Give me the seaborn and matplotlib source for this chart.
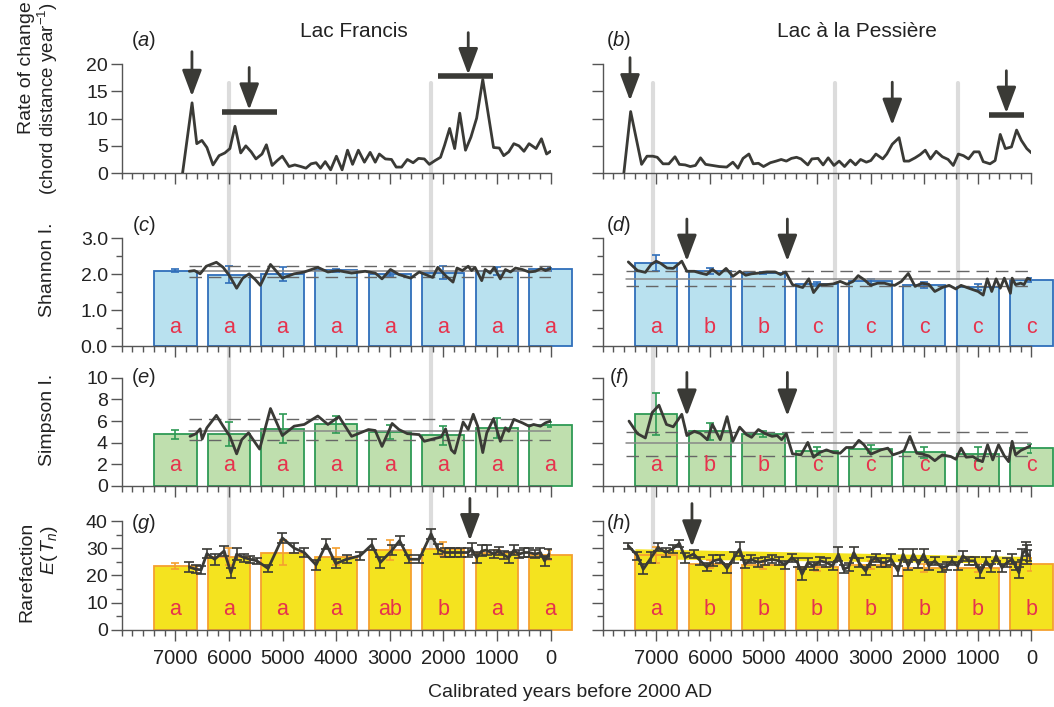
import numpy as np
import pandas as pd
import seaborn as sns
import matplotlib.pyplot as plt
from matplotlib.ticker import MultipleLocator, FixedLocator, FormatStrFormatter
from matplotlib.lines import Line2D

sns.set_style('ticks')
plt.rcParams['font.family'] = ['Liberation Sans', 'DejaVu Sans']
plt.rcParams['mathtext.fontset'] = 'custom'
plt.rcParams['mathtext.rm'] = 'Liberation Sans'
plt.rcParams['mathtext.it'] = 'Liberation Sans:italic'

# ---- data (years = calibrated years BP 2000) ----
bar_years = [7000, 6000, 5000, 4000, 3000, 2000, 1000, 0]
xtick_years = [7000, 6000, 5000, 4000, 3000, 2000, 1000, 0]

# rate of change
fr_roc_yr = [6865, 6688, 6600, 6505, 6411, 6297, 6184, 6076, 5982, 5887,
             5780, 5685, 5585, 5496, 5383, 5301, 5194, 5099, 5004, 4878,
             4771, 4658, 4563, 4468, 4374, 4292, 4203, 4102, 3995, 3888,
             3787, 3693, 3585, 3472, 3365, 3270, 3194, 3081, 2967, 2879,
             2778, 2671, 2563, 2463, 2355, 2261, 2154, 2052, 1977, 1882,
             1788, 1693, 1586, 1485, 1378, 1264, 1063, 955, 873, 779,
             684, 589, 495, 400, 270, 169, 73, 0]
fr_roc = [0, 12.9, 5.4, 6.0, 4.7, 1.5, 3.2, 3.7, 4.5, 8.6,
          3.7, 5.0, 3.9, 2.6, 3.5, 5.2, 1.4, 2.3, 3.1, 1.2,
          1.5, 1.2, 0.9, 1.7, 1.9, 0.9, 2.1, 0.6, 3.1, 0.6,
          4.2, 1.6, 4.2, 2.0, 3.8, 2.0, 3.5, 2.6, 2.5, 1.1,
          1.1, 2.5, 1.9, 2.7, 2.6, 1.6, 2.3, 2.9, 5.1, 8.2,
          4.5, 11.0, 4.2, 6.6, 10.1, 17.2, 4.7, 4.6, 3.2, 3.9,
          5.4, 5.0, 4.0, 5.4, 4.5, 6.3, 3.5, 4.0]
pe_roc_yr = [7605, 7478, 7274, 7173, 7065, 6982, 6874, 6766, 6651, 6569,
             6461, 6366, 6270, 6175, 6080, 5952, 5825, 5686, 5571, 5476,
             5381, 5272, 5190, 5094, 4999, 4872, 4764, 4669, 4573, 4478,
             4383, 4300, 4173, 4097, 3982, 3887, 3792, 3684, 3588, 3487,
             3379, 3283, 3188, 3080, 2997, 2902, 2775, 2699, 2597, 2470,
             2375, 2286, 2171, 2076, 1981, 1885, 1777, 1663, 1555, 1459,
             1364, 1269, 1174, 1072, 977, 900, 773, 678, 582, 487,
             373, 277, 188, 87, 0]
pe_roc = [0, 11.3, 1.6, 3.1, 3.1, 2.9, 1.7, 1.7, 3.0, 1.6,
          1.5, 1.2, 1.4, 2.8, 1.6, 1.4, 1.2, 1.1, 2.0, 0.9,
          2.7, 3.5, 1.7, 1.8, 1.2, 1.9, 2.2, 2.5, 2.2, 2.7,
          2.9, 2.6, 1.5, 2.6, 2.7, 1.5, 2.8, 1.4, 2.2, 1.2,
          2.4, 1.5, 2.5, 2.0, 2.3, 3.5, 2.6, 3.5, 5.3, 6.5,
          2.2, 2.2, 2.8, 3.4, 4.2, 2.6, 4.0, 3.0, 2.5, 1.4,
          3.5, 3.2, 2.6, 3.9, 3.9, 2.1, 1.7, 2.3, 7.1, 4.5,
          4.8, 7.9, 6.0, 4.5, 3.7]

# Shannon index
fr_sh_yr = [6739, 6644, 6537, 6423, 6234, 6108, 5982, 5856, 5742, 5622,
            5509, 5414, 5225, 5004, 4783, 4594, 4342, 4153, 3964, 3711,
            3459, 3270, 3144, 2986, 2828, 2608, 2450, 2198, 2103, 1945,
            1819, 1744, 1643, 1536, 1472, 1409, 1283, 1220, 1126, 1050,
            936, 842, 747, 653, 526, 400, 283, 175, 92, 0]
fr_sh = [2.08, 2.10, 2.01, 2.22, 2.33, 2.19, 1.94, 1.61, 1.89, 2.01,
         1.85, 1.69, 2.27, 1.89, 2.01, 2.06, 2.19, 2.06, 2.10, 2.03,
         2.08, 2.03, 1.87, 2.13, 1.99, 1.89, 2.06, 1.91, 2.19, 1.94,
         1.78, 2.17, 2.10, 2.22, 2.10, 2.19, 1.82, 2.13, 2.03, 2.19,
         1.87, 2.13, 2.06, 2.17, 2.13, 2.06, 2.08, 2.16, 2.10, 2.16]
pe_sh_yr = [7522, 7351, 7204, 7096, 7001, 6918, 6798, 6683, 6524, 6429,
            6289, 6175, 6060, 5952, 5825, 5698, 5571, 5444, 5330, 5222,
            5095, 4936, 4777, 4681, 4586, 4459, 4268, 4154, 4065, 3951,
            3824, 3696, 3569, 3442, 3328, 3232, 3125, 2997, 2870, 2743,
            2648, 2553, 2425, 2298, 2171, 2044, 1917, 1803, 1663, 1536,
            1409, 1313, 1205, 1091, 995, 900, 824, 741, 659, 582,
            506, 392, 360, 297, 201, 138, 74, 11]
pe_sh = [2.34, 2.10, 2.05, 2.27, 2.36, 2.30, 2.17, 2.16, 2.36, 2.08,
         2.08, 2.03, 1.99, 2.13, 1.99, 2.16, 1.94, 2.08, 1.97, 2.01,
         2.03, 2.06, 2.06, 1.99, 2.06, 1.71, 1.63, 1.87, 1.49, 1.71,
         1.71, 1.73, 1.80, 1.72, 1.80, 1.96, 1.85, 1.69, 1.75, 1.75,
         1.71, 1.69, 1.80, 2.02, 1.66, 1.75, 1.72, 1.52, 1.63, 1.69,
         1.59, 1.69, 1.63, 1.57, 1.52, 1.42, 1.87, 1.52, 1.87, 1.61,
         1.89, 1.47, 1.89, 1.71, 1.75, 1.71, 1.89, 1.85]
fr_sh_bar = [2.10, 1.99, 2.01, 2.11, 2.01, 2.04, 2.08, 2.13]
fr_sh_err = [0.03, 0.24, 0.19, 0.04, 0.05, 0.18, 0.11, 0.03]
pe_sh_bar = [2.30, 2.08, 2.03, 1.72, 1.80, 1.71, 1.65, 1.84]
pe_sh_err = [0.22, 0.08, 0.03, 0.06, 0.06, 0.08, 0.08, 0.05]

# Simpson index
fr_si_yr = [6726, 6613, 6537, 6499, 6411, 6234, 6108, 5982, 5856, 5761,
            5635, 5528, 5427, 5225, 5004, 4783, 4594, 4342, 4153, 3945,
            3711, 3585, 3396, 3270, 3144, 2955, 2828, 2671, 2450, 2355,
            2198, 2040, 1958, 1851, 1788, 1630, 1536, 1441, 1359, 1264,
            1189, 1063, 936, 842, 779, 684, 526, 400, 315, 188, 92, 0]
fr_si = [4.59, 4.84, 5.28, 4.34, 5.38, 6.53, 5.53, 4.59, 2.97, 4.28,
         4.91, 4.13, 3.41, 7.16, 4.66, 5.53, 5.69, 6.47, 5.69, 6.41,
         4.59, 4.84, 5.22, 5.13, 3.66, 5.78, 5.22, 4.84, 4.75, 4.13,
         4.34, 4.53, 5.28, 3.34, 3.03, 5.91, 5.22, 6.63, 5.53, 3.09,
         4.91, 6.22, 4.13, 5.38, 5.06, 6.16, 5.84, 5.53, 5.69, 5.53, 5.84, 6.0]
pe_si_yr = [7509, 7351, 7204, 7077, 6950, 6810, 6683, 6524, 6429, 6289,
            6175, 6048, 5952, 5806, 5679, 5571, 5444, 5317, 5222, 5095,
            4967, 4840, 4745, 4662, 4573, 4459, 4300, 4173, 4065, 3951,
            3824, 3696, 3569, 3455, 3328, 3220, 3125, 2997, 2807, 2680,
            2584, 2457, 2375, 2267, 2140, 2044, 1917, 1803, 1663, 1504,
            1409, 1313, 1218, 1091, 995, 913, 818, 722, 614, 506,
            424, 360, 297, 201, 106, 42, 11]
pe_si = [6.0, 4.84, 4.44, 6.78, 7.47, 5.69, 5.47, 6.63, 4.66, 5.06,
         4.84, 4.28, 5.69, 4.28, 6.41, 4.13, 5.44, 4.75, 4.5, 5.22,
         4.84, 4.59, 4.66, 4.28, 4.84, 2.97, 2.88, 4.03, 2.66, 3.09,
         3.34, 3.09, 3.03, 3.56, 3.56, 4.22, 3.81, 2.94, 3.34, 3.5,
         2.88, 3.09, 3.28, 4.59, 3.03, 2.97, 2.78, 2.34, 2.88, 2.72,
         2.47, 3.5, 2.66, 2.72, 2.41, 2.25, 3.81, 2.41, 3.81, 2.78,
         2.25, 4.13, 2.88, 3.28, 3.5, 3.66, 3.72]
fr_si_bar = [4.78, 4.78, 5.28, 5.69, 4.97, 4.69, 5.38, 5.66]
fr_si_err = [0.44, 1.1, 1.35, 0.8, 0.65, 0.9, 0.95, 0.25]
pe_si_bar = [6.63, 5.06, 4.81, 3.25, 3.41, 3.13, 2.94, 3.50]
pe_si_err = [1.95, 0.8, 0.27, 0.35, 0.36, 0.5, 0.67, 0.42]

# rarefaction E(Tn)
fr_ra_yr = [6739, 6613, 6518, 6411, 6266, 6089, 5963, 5856, 5717, 5603,
            5477, 5269, 5004, 4783, 4594, 4374, 4184, 4008, 3806, 3553,
            3333, 3175, 2955, 2816, 2639, 2450, 2229, 2103, 1977, 1882,
            1788, 1661, 1535, 1472, 1378, 1283, 1189, 1063, 968, 873,
            779, 684, 589, 495, 400, 283, 188, 111, 29]
fr_ra = [23.1, 22.3, 22.1, 28.1, 26.0, 29.1, 21.0, 27.9, 26.6, 26.0,
         25.4, 22.6, 33.9, 30.1, 28.5, 23.9, 31.6, 24.4, 26.0, 27.3,
         31.4, 24.8, 29.4, 32.9, 26.0, 26.0, 35.4, 29.8, 28.5, 28.5,
         28.5, 28.5, 28.5, 29.8, 26.6, 29.1, 29.4, 27.9, 29.1, 27.6,
         26.6, 29.4, 27.9, 28.5, 28.5, 27.9, 28.5, 25.4, 27.9]
fr_ra_se = [1.8, 1.5, 1.5, 1.8, 2.0, 1.8, 1.8, 2.2, 1.5, 1.2,
            1.2, 1.2, 2.0, 1.8, 1.5, 1.8, 1.8, 1.8, 1.5, 1.5,
            2.0, 2.0, 2.0, 1.8, 1.5, 1.5, 1.8, 2.0, 1.5, 1.5,
            1.5, 1.5, 1.5, 2.2, 2.0, 2.0, 1.8, 1.5, 1.5, 1.5,
            2.0, 2.0, 1.5, 1.5, 1.5, 1.5, 1.5, 1.8, 1.8]
pe_ra_yr = [7522, 7351, 7243, 7096, 6969, 6823, 6696, 6569, 6461, 6302,
            6175, 6060, 5933, 5806, 5679, 5552, 5444, 5349, 5234, 5095,
            4980, 4840, 4713, 4599, 4472, 4364, 4281, 4173, 4065, 3938,
            3824, 3709, 3601, 3506, 3410, 3315, 3220, 3093, 2997, 2902,
            2807, 2711, 2616, 2489, 2394, 2298, 2203, 2108, 2012, 1917,
            1803, 1676, 1567, 1485, 1377, 1281, 1167, 1059, 951, 849,
            760, 659, 551, 455, 360, 297, 233, 169, 106, 74, 30]
pe_ra = [31.0, 27.3, 22.3, 26.6, 30.4, 28.5, 29.8, 31.9, 26.6, 27.9,
         25.4, 23.1, 25.4, 26.0, 22.6, 26.6, 29.8, 24.1, 26.0, 24.8,
         25.4, 26.0, 25.4, 23.9, 26.6, 24.8, 20.4, 24.8, 23.5, 25.4,
         24.8, 23.5, 27.9, 22.3, 23.1, 28.5, 24.8, 21.6, 25.4, 26.6,
         24.8, 24.8, 26.0, 21.6, 27.9, 23.5, 27.9, 24.1, 27.9, 23.5,
         25.4, 22.9, 23.5, 25.4, 23.5, 27.3, 25.4, 25.4, 21.0, 25.4,
         22.9, 27.3, 22.9, 24.8, 26.0, 23.5, 21.0, 27.9, 29.8, 27.9, 27.3]
pe_ra_se = [1.2, 1.5, 1.8, 2.0, 1.5, 1.5, 1.5, 1.2, 1.8, 1.5,
            1.5, 1.5, 2.0, 1.5, 1.5, 2.0, 2.5, 1.5, 1.5, 1.5,
            1.5, 1.5, 1.5, 1.5, 1.5, 1.8, 2.0, 1.5, 1.5, 1.5,
            1.5, 1.5, 2.5, 1.5, 1.5, 2.0, 1.5, 1.5, 1.5, 1.5,
            1.5, 1.5, 2.0, 1.8, 2.0, 1.5, 2.0, 1.5, 2.0, 1.5,
            1.5, 1.5, 1.5, 1.5, 1.5, 1.8, 1.5, 1.5, 2.0, 1.5,
            1.5, 1.8, 1.5, 1.5, 1.8, 1.5, 2.0, 2.0, 2.5, 3.5, 2.0]
fr_ra_bar = [23.5, 27.0, 28.5, 27.0, 29.4, 29.8, 28.5, 27.5]
fr_ra_err = [1.1, 3.0, 4.6, 3.0, 3.6, 2.7, 1.0, 1.9]
pe_ra_bar = [27.6, 24.4, 23.9, 23.1, 23.9, 22.9, 22.9, 24.1]
pe_ra_err = [2.8, 1.5, 1.5, 1.5, 1.5, 1.5, 1.5, 2.5]
pe_band_yr = [7400, 0]
pe_band_lo = [26.2, 24.5]
pe_band_hi = [29.9, 27.0]

# group letters
fr_sh_let = ['a'] * 8
pe_sh_let = ['a', 'b', 'b', 'c', 'c', 'c', 'c', 'c']
fr_si_let = ['a'] * 8
pe_si_let = ['a', 'b', 'b', 'c', 'c', 'c', 'c', 'c']
fr_ra_let = ['a', 'a', 'a', 'a', 'ab', 'b', 'a', 'a']
pe_ra_let = ['a', 'b', 'b', 'b', 'b', 'b', 'b', 'b']

# mean and confidence lines (mean, low, high, start year)
fr_sh_ref = (2.08, 1.91, 2.24, 6740)
pe_sh_ref = (1.87, 1.66, 2.10, 7570)
fr_si_ref = (5.13, 4.28, 6.19, 6740)
pe_si_ref = (3.97, 2.78, 5.00, 7570)

# grey zone boundaries
fr_gray = [6000, 2230]
pe_gray = [7070, 3665, 1365]

# arrows (year, tail, tip) and bars (start, end, level)
fr_roc_arrows = [(6690, 22.3, 14.1), (5622, 19.4, 11.6), (1535, 25.8, 18.1)]
fr_roc_bars = [(6127, 5099, 11.3), (2091, 1075, 17.9)]
pe_roc_arrows = [(7490, 21.2, 13.3), (2597, 16.7, 8.8), (468, 18.8, 11.0)]
pe_roc_bars = [(786, 137, 10.6)]
pe_sh_arrows = [(6429, 3.53, 2.36), (4554, 3.53, 2.36)]
pe_si_arrows = [(6429, 10.5, 6.47), (4554, 10.5, 6.47)]
fr_ra_arrows = [(1504, 48.5, 32.9)]
pe_ra_arrows = [(6334, 46.6, 30.6)]

# ---- style ----
dark = '#3a3a36'
red = '#e6334d'
fs = 14
blue = ('#b9e1ef', '#2f6eba')
green = ('#bfdfae', '#2e9a55')
yellow = ('#f4e31f', '#f5a030')

fig = plt.figure(figsize=(10.54, 7.07), dpi=100)
lefts = [0.1155, 0.5718]
w = 0.4068
rows = [(0.7552, 0.1540), (0.5102, 0.1530), (0.3126, 0.1530), (0.1095, 0.1530)]
axes = [[fig.add_axes([l, b, w, h]) for l in lefts] for (b, h) in rows]

ylims = [20, 3, 10, 40]
ymaj = [5, 1, 2, 10]
ymin = [None, 0.5, None, 5]
for r, row in enumerate(axes):
    for c, ax in enumerate(row):
        ax.set_facecolor('none')
        ax.set_xlim(8000, 0)
        ax.set_ylim(0, ylims[r])
        ax.xaxis.set_major_locator(FixedLocator(xtick_years))
        ax.xaxis.set_minor_locator(MultipleLocator(200))
        ax.yaxis.set_major_locator(MultipleLocator(ymaj[r]))
        if ymin[r]:
            ax.yaxis.set_minor_locator(MultipleLocator(ymin[r]))
        if r == 1:
            ax.yaxis.set_major_formatter(FormatStrFormatter('%.1f'))
        sns.despine(ax=ax)
        for s in ['left', 'bottom']:
            ax.spines[s].set_color('#555555')
            ax.spines[s].set_linewidth(1.0)
        ax.tick_params(which='major', length=8, width=1, color='#555555',
                       labelsize=fs, pad=2, labelcolor='#222222')
        ax.tick_params(which='minor', length=4, width=1, color='#555555')
        ax.tick_params(axis='x', pad=6, labelsize=fs + 0.5)
        ax.tick_params(labelleft=(c == 0), labelbottom=(r == 3))
        ax.set_xlabel('')
        ax.set_ylabel('')


def add_arrows(ax, arrows):
    for x, tail, tip in arrows:
        ax.annotate('', xy=(x, tip), xytext=(x, tail), annotation_clip=False,
                    arrowprops=dict(arrowstyle='-|>,head_length=0.8,head_width=0.3',
                                    mutation_scale=20, lw=2.0, color=dark,
                                    shrinkA=0, shrinkB=0))


def add_hbars(ax, bars):
    for x0, x1, y in bars:
        ax.plot([x0, x1], [y, y], color=dark, lw=4, solid_capstyle='butt',
                clip_on=False)


def add_bars(ax, vals, errs, letters, colors, ytxt):
    ax.bar(bar_years, vals, width=790, color=colors[0], edgecolor=colors[1],
           linewidth=1.3, zorder=2, clip_on=False)
    ax.errorbar(bar_years, vals, yerr=errs, fmt='none', ecolor=colors[1],
                elinewidth=1.2, capsize=3, capthick=1.2, zorder=3)
    for x, lt in zip(bar_years, letters):
        ax.text(x, ytxt, lt, color=red, ha='center', va='center', fontsize=fs + 1.5,
                zorder=4, clip_on=False)


def add_ref(ax, ref):
    m, lo, hi, x0 = ref
    ax.plot([x0, 0], [m, m], color='#888888', lw=1.1, zorder=3)
    for y in (lo, hi):
        ax.plot([x0, 0], [y, y], color='#666666', lw=1.0, dashes=(9, 5), zorder=3)


def add_line(ax, x, y):
    df = pd.DataFrame({'year': x, 'val': y})
    sns.lineplot(data=df, x='year', y='val', ax=ax, color=dark, lw=2.0,
                 estimator=None, zorder=5)
    ax.set_xlabel('')
    ax.set_ylabel('')


# (a), (b)
add_line(axes[0][0], fr_roc_yr, fr_roc)
add_line(axes[0][1], pe_roc_yr, pe_roc)
add_arrows(axes[0][0], fr_roc_arrows)
add_hbars(axes[0][0], fr_roc_bars)
add_arrows(axes[0][1], pe_roc_arrows)
add_hbars(axes[0][1], pe_roc_bars)

# (c), (d)
add_bars(axes[1][0], fr_sh_bar, fr_sh_err, fr_sh_let, blue, 0.53)
add_bars(axes[1][1], pe_sh_bar, pe_sh_err, pe_sh_let, blue, 0.53)
add_ref(axes[1][0], fr_sh_ref)
add_ref(axes[1][1], pe_sh_ref)
add_line(axes[1][0], fr_sh_yr, fr_sh)
add_line(axes[1][1], pe_sh_yr, pe_sh)
add_arrows(axes[1][1], pe_sh_arrows)

# (e), (f)
add_bars(axes[2][0], fr_si_bar, fr_si_err, fr_si_let, green, 1.9)
add_bars(axes[2][1], pe_si_bar, pe_si_err, pe_si_let, green, 1.9)
add_ref(axes[2][0], fr_si_ref)
add_ref(axes[2][1], pe_si_ref)
add_line(axes[2][0], fr_si_yr, fr_si)
add_line(axes[2][1], pe_si_yr, pe_si)
add_arrows(axes[2][1], pe_si_arrows)

# (g), (h)
axes[3][1].fill_between(pe_band_yr, pe_band_lo, pe_band_hi, color=yellow[0],
                        lw=0, zorder=1.5)
add_bars(axes[3][0], fr_ra_bar, fr_ra_err, fr_ra_let, yellow, 7.3)
add_bars(axes[3][1], pe_ra_bar, pe_ra_err, pe_ra_let, yellow, 7.3)
add_line(axes[3][0], fr_ra_yr, fr_ra)
add_line(axes[3][1], pe_ra_yr, pe_ra)
axes[3][0].errorbar(fr_ra_yr, fr_ra, yerr=fr_ra_se, fmt='none', ecolor=dark,
                    elinewidth=1.2, capsize=3.5, capthick=1.2, zorder=6)
axes[3][1].errorbar(pe_ra_yr, pe_ra, yerr=pe_ra_se, fmt='none', ecolor=dark,
                    elinewidth=1.2, capsize=3.5, capthick=1.2, zorder=6)
add_arrows(axes[3][0], fr_ra_arrows)
add_arrows(axes[3][1], pe_ra_arrows)

# panel letters
letters = [['a', 'b'], ['c', 'd'], ['e', 'f'], ['g', 'h']]
ly = [1.22, 1.115, 1.0, 0.98]
for r in range(4):
    for c in range(2):
        axes[r][c].text([0.051, 0.037][c], ly[r], r'($\mathit{%s}$)' % letters[r][c],
                        transform=axes[r][c].transAxes, ha='center', va='center',
                        fontsize=fs + 0.5, color='#222222')

axes[0][0].text(0.542, 1.296, 'Lac Francis', transform=axes[0][0].transAxes,
                ha='center', va='center', fontsize=fs + 1, color='#222222')
axes[0][1].text(0.593, 1.296, 'Lac à la Pessière', transform=axes[0][1].transAxes,
                ha='center', va='center', fontsize=fs + 1, color='#222222')

# y labels
lab = dict(rotation=90, ha='center', va='center', fontsize=fs, color='#222222')
fig.text(0.0256, 0.905, 'Rate of change', **lab)
fig.text(0.0455, 0.860, r'(chord distance year$^{-1}$)',
         **{**lab, 'fontsize': fs - 0.5})
fig.text(0.0455, 0.618, 'Shannon I.', **lab)
fig.text(0.0455, 0.406, 'Simpson I.', **lab)
fig.text(0.0256, 0.191, 'Rarefaction', **lab)
fig.text(0.0474, 0.222, r'$E(\,T_n)$', **lab)
fig.text(0.541, 0.02, 'Calibrated years before 2000 AD', ha='center', va='center',
         fontsize=fs, color='#222222')

# grey zone lines running through all panels
inv = fig.transFigure.inverted()
for c, xs in enumerate([fr_gray, pe_gray]):
    for x in xs:
        x0, y0 = inv.transform(axes[0][c].transData.transform((x, 16.6)))
        x1, y1 = inv.transform(axes[3][c].transData.transform((x, 0)))
        fig.add_artist(Line2D([x0, x1], [y0, y1], transform=fig.transFigure,
                              color='#dcdcdc', lw=3, zorder=-1))

fig.savefig('out.png', dpi=100)
